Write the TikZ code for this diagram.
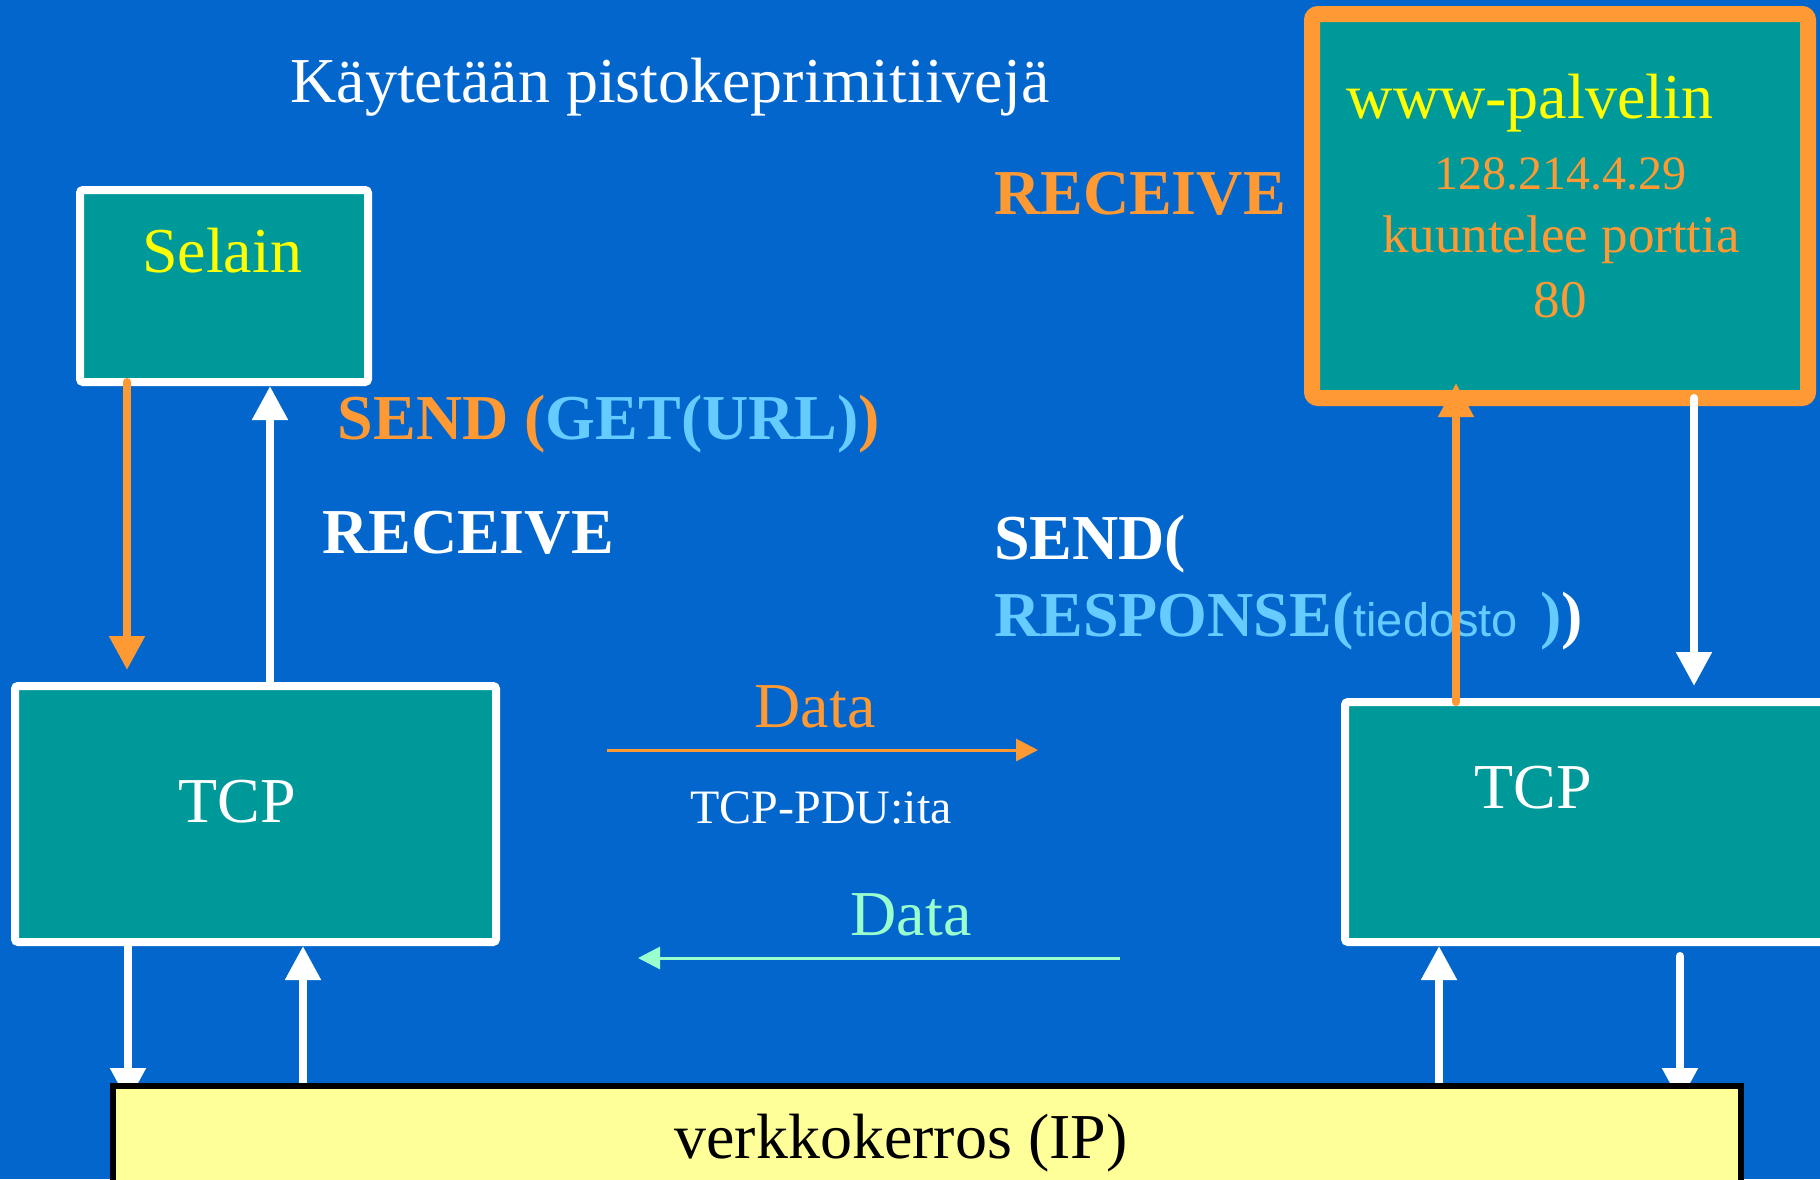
\documentclass[tikz,border=0pt]{standalone}
\usepackage{fontspec}
\setmainfont{Liberation Serif}
\newfontfamily\arialfont{Liberation Sans}
\usetikzlibrary{arrows.meta}
\pgfdeclarelayer{front}
\pgfsetlayers{main,front}

\definecolor{slidebg}{HTML}{0366CC}
\definecolor{boxteal}{HTML}{009999}
\definecolor{accent}{HTML}{FF9933}
\definecolor{skyblue}{HTML}{66CCFF}
\definecolor{lemon}{HTML}{FFFF00}
\definecolor{mint}{HTML}{99FFCC}
\definecolor{paleyellow}{HTML}{FFFF99}

\tikzset{
  box/.style={draw, fill=boxteal, inner sep=0pt, outer sep=0pt,
    anchor=north west, rounded corners=3pt},
  wbox/.style={box, draw=white, line width=8pt},
  txt/.style={inner sep=0pt, anchor=base},
  big/.style={txt, font=\fontsize{64pt}{70pt}\selectfont},
  bigb/.style={txt, font=\fontsize{64pt}{70pt}\selectfont\bfseries},
  mid/.style={txt, font=\fontsize{53pt}{60pt}\selectfont},
  small/.style={txt, font=\fontsize{48pt}{54pt}\selectfont},
  prim/.style={line width=8pt, line cap=round,
    -{Triangle[length=34pt, width=34pt]}},
  dataarrow/.style={line width=3pt,
    -{Triangle[length=22pt, width=22pt]}},
}

\begin{document}
\begin{tikzpicture}[x=1pt, y=-1pt]
  % slide background
  \fill[slidebg] (0,0) rectangle (1820,1179);
  \useasboundingbox (0,0) rectangle (1820,1179);

  % boxes
  \node[wbox, minimum width=288pt, minimum height=192pt] (selain) at (80,190) {};
  \node[wbox, minimum width=481pt, minimum height=256pt] (tcpL) at (15,686) {};
  \node[wbox, minimum width=500pt, minimum height=240pt] (tcpR) at (1345,702) {};
  \node[box, draw=accent, line width=16pt, rounded corners=6pt,
        minimum width=496pt, minimum height=384pt] (server) at (1312,14) {};
  \begin{pgfonlayer}{front}
    \node[box, fill=paleyellow, draw=black, line width=6pt, rounded corners=0pt,
          minimum width=1628pt, minimum height=150pt] (ip) at (113,1086) {};
    \node[big, text=black] (iplabel) at (901,1158) {verkkokerros (IP)};
  \end{pgfonlayer}

  % texts
  \node[big, text=white] (title) at (670,102) {Käytetään pistokeprimitiivejä};
  \node[big, text=lemon] (selainlabel) at (222,272) {Selain};
  \node[big, text=white] (tcpLlabel) at (237,822) {TCP};
  \node[big, text=white] (tcpRlabel) at (1533,808) {TCP};
  \node[big, text=lemon] (www) at (1530,118) {www-palvelin};
  \node[small, text=accent] (addr) at (1560,189) {128.214.4.29};
  \node[mid, text=accent] (listen) at (1561,252) {kuuntelee porttia};
  \node[mid, text=accent] (port) at (1560,317) {80};

  \node[bigb, text=accent] (recvS) at (1140,214) {RECEIVE};
  \node[bigb, text=accent] (sendC) at (609,439)
    {SEND (\textcolor{skyblue}{GET(URL)})};
  \node[bigb, text=white] (recvC) at (468,553) {RECEIVE};
  \node[bigb, text=white, anchor=base west] (sendS) at (994,559) {SEND(};
  \node[bigb, text=skyblue, anchor=base west] (resp) at (994,636)
    {RESPONSE({\arialfont\mdseries\fontsize{47pt}{50pt}\selectfont tiedosto}\hspace{22pt})\textcolor{white}{)}};

  \node[big, text=accent] (dataout) at (815,727) {Data};
  \node[small, text=white] (pdu) at (821,823) {TCP-PDU:ita};
  \node[big, text=mint] (datain) at (911,935) {Data};

  % data flow between the hosts
  \coordinate (d1s) at (607,750);
  \coordinate (d1e) at (1038,750);
  \coordinate (d2s) at (1120,958);
  \coordinate (d2e) at (638,958);
  \draw[dataarrow, accent] (d1s) -- (d1e);
  \draw[dataarrow, mint] (d2s) -- (d2e);

  % socket primitives: application <-> TCP
  \draw[prim, accent, shorten >=16pt] ([xshift=47pt]selain.south west) -- ([xshift=112pt]tcpL.north west);
  \draw[prim, white, shorten >=4pt] ([xshift=255pt]tcpL.north west) -- ([xshift=190pt]selain.south west);
  \draw[prim, accent, shorten >=-15pt] ([xshift=111pt]tcpR.north west) -- ([xshift=144pt]server.south west);
  \draw[prim, white, shorten >=16pt] ([xshift=382pt]server.south west) -- ([xshift=349pt]tcpR.north west);

  % TCP <-> network layer
  \draw[prim, white, shorten >=-16pt] ([xshift=113pt]tcpL.south west) -- ([xshift=15pt]ip.north west);
  \draw[prim, white, shorten >=4pt] ([xshift=190pt]ip.north west) -- ([xshift=288pt]tcpL.south west);
  \draw[prim, white, shorten >=4pt] ([xshift=1326pt]ip.north west) -- ([xshift=94pt]tcpR.south west);
  \draw[prim, white, shorten <=14pt, shorten >=-16pt] ([xshift=335pt]tcpR.south west) -- ([xshift=1567pt]ip.north west);
\end{tikzpicture}
\end{document}
